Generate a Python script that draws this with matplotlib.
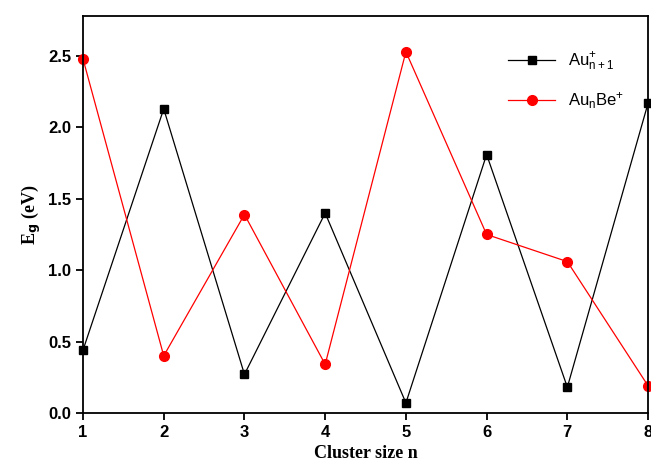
import matplotlib.pyplot as plt

n = [1, 2, 3, 4, 5, 6, 7, 8]
au_n1 = [0.44, 2.13, 0.27, 1.40, 0.07, 1.81, 0.18, 2.17]
au_be = [2.48, 0.40, 1.39, 0.34, 2.53, 1.25, 1.06, 0.19]

plt.rcParams['mathtext.default'] = 'regular'

fig = plt.figure(figsize=(6.51, 4.73), dpi=100)
ax = fig.add_axes([0.1275, 0.127, 0.868, 0.839])

ax.plot(n, au_n1, color='black', lw=0.9, marker='s', ms=6, clip_on=False,
        label=r'Au$^{+}_{n+1}$')
ax.plot(n, au_be, color='red', lw=0.9, marker='o', ms=7, clip_on=False,
        label=r'Au$_{n}$Be$^{+}$')

ax.set_xlim(1, 8)
ax.set_ylim(0, 2.78)
ax.set_xticks(n)
ax.set_yticks([0.0, 0.5, 1.0, 1.5, 2.0, 2.5])
ax.set_yticklabels(['0.0', '0.5', '1.0', '1.5', '2.0', '2.5'])
ax.tick_params(direction='out', length=5, width=1.3, labelsize=12)
for lab in ax.get_xticklabels() + ax.get_yticklabels():
    lab.set_fontweight('bold')
    lab.set_family('Liberation Sans')
for s in ax.spines.values():
    s.set_linewidth(1.3)

ax.set_xlabel('Cluster size n', family='Liberation Serif', fontweight='bold', fontsize=13)
ax.set_ylabel(r'E$_{\mathbf{g}}$ (eV)', family='Liberation Serif', fontweight='bold', fontsize=13)

ax.legend(loc='upper right', frameon=False, bbox_to_anchor=(0.985, 0.95),
          handlelength=2.8, labelspacing=1.0,
          prop={'family': 'Liberation Sans', 'size': 12})

plt.savefig('out.png')
